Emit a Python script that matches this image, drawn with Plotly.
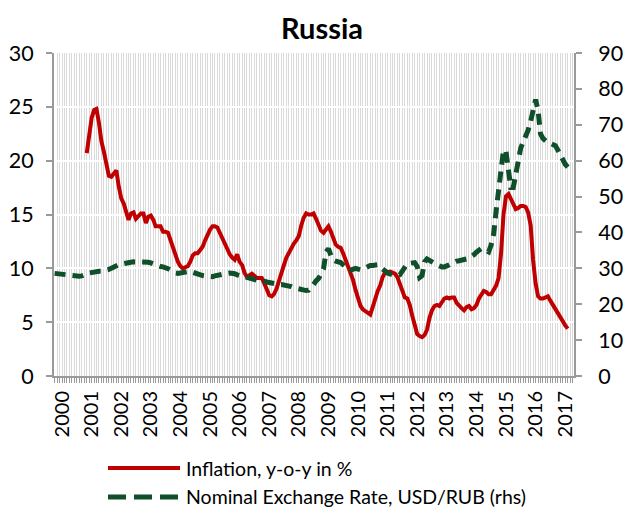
import pandas as pd
import plotly.graph_objects as go

# Monthly data
inflation_start = "2000-11-01"
inflation = [
    20.7, 22.5, 24.0, 24.7, 24.8, 23.5, 21.8, 20.8, 19.5, 18.6,
    18.5, 18.8, 19.1, 17.6, 16.5, 16.0, 15.2, 14.5, 15.1, 15.2,
    14.6, 14.8, 15.1, 15.1, 14.2, 14.8, 14.9, 14.5, 13.9, 13.9,
    13.9, 13.4, 13.4, 13.3, 12.6, 11.9, 11.4, 10.6, 10.2, 10.0,
    10.1, 10.2, 10.6, 11.2, 11.4, 11.4, 11.7, 12.0, 12.6, 13.2,
    13.6, 13.9, 13.9, 13.8, 13.3, 12.7, 12.3, 11.9, 11.3, 11.0,
    10.8, 11.3, 10.6, 10.3, 9.6, 9.2, 9.3, 9.5, 9.3, 9.1,
    9.1, 9.1, 8.6, 8.0, 7.5, 7.4, 7.6, 8.1, 8.9, 9.4,
    10.3, 11.0, 11.5, 11.9, 12.3, 12.6, 13.0, 14.0, 14.7, 15.1,
    15.0, 15.0, 15.1, 14.6, 14.1, 13.5, 13.3, 13.6, 13.9, 13.4,
    12.8, 12.2, 12.0, 11.9, 11.4, 10.8, 10.0, 9.4, 8.9, 8.0,
    7.1, 6.5, 6.2, 6.0, 5.8, 5.7, 6.4, 7.3, 7.9, 8.4,
    9.2, 9.6, 9.7, 9.7, 9.6, 9.5, 9.2, 8.6, 7.8, 7.3,
    7.2, 6.6, 5.6, 4.6, 3.9, 3.7, 3.6, 3.8, 4.3, 5.4,
    6.1, 6.5, 6.6, 6.5, 6.8, 7.2, 7.3, 7.2, 7.3, 7.3,
    6.8, 6.5, 6.3, 6.1, 6.4, 6.5, 6.2, 6.3, 6.6, 7.2,
    7.5, 7.9, 7.8, 7.6, 7.6, 8.0, 8.4, 9.1, 11.4, 15.0,
    16.7, 16.9, 16.4, 15.8, 15.5, 15.6, 15.8, 15.8, 15.7, 15.2,
    14.0, 10.8, 8.6, 7.4, 7.2, 7.2, 7.3, 7.4, 7.0, 6.6,
    6.3, 5.9, 5.4, 5.1, 4.7, 4.4,
]

fx_start = "1999-10-01"
usd_rub = [
    28.6, 28.5, 28.4,
    28.3, 28.2, 28.1, 28.1, 28.0, 27.9, 27.8, 27.8, 27.9, 28.0,
    28.4, 28.7, 28.9, 29.0, 29.1, 29.2, 29.2, 29.3, 29.5, 29.7,
    30.0, 30.4, 30.8, 31.0, 31.2, 31.4, 31.5, 31.6, 31.7, 31.8,
    31.8, 31.9, 31.9, 31.9, 31.8, 31.7, 31.5, 31.2, 30.9, 30.7,
    30.5, 30.4, 30.3, 29.9, 29.5, 29.0, 28.7, 28.6, 28.7, 28.8,
    29.0, 29.3, 29.2, 28.9, 28.6, 28.3, 28.1, 28.0, 27.9, 27.8,
    27.7, 27.7, 27.9, 28.1, 28.3, 28.4, 28.5, 28.6, 28.7, 28.7,
    28.5, 28.2, 28.0, 27.7, 27.4, 27.2, 27.0, 26.9, 26.8, 26.7,
    26.6, 26.6, 26.4, 26.2, 26.0, 25.8, 25.7, 25.6, 25.5, 25.5,
    25.4, 25.3, 25.1, 24.9, 24.6, 24.4, 24.1, 23.9, 23.8, 23.8,
    23.9, 24.5, 25.5, 26.5, 27.2, 28.4, 29.8, 34.5, 35.5, 33.5,
    32.3, 32.0, 31.8, 31.6, 31.0, 30.2, 29.7, 29.5, 29.8, 30.0,
    29.8, 29.6, 29.8, 30.2, 30.6, 30.8, 30.8, 30.9, 31.0, 30.4,
    29.7, 29.0, 28.7, 28.4, 28.2, 28.1, 28.1, 28.2, 29.2, 30.8,
    31.3, 31.4, 31.5, 31.6, 30.5, 27.5, 28.0, 31.8, 32.6, 32.3,
    31.8, 31.4, 31.0, 30.6, 30.4, 30.4, 30.6, 31.0, 31.4, 31.8,
    32.0, 32.1, 32.2, 32.3, 32.6, 32.9, 33.3, 33.8, 34.5, 35.1,
    35.5, 35.4, 34.9, 34.6, 36.5, 39.5, 46.0, 52.5, 58.5, 63.0,
    62.5, 58.3, 52.5, 52.5, 56.0, 60.5, 63.5, 65.2, 66.8, 68.5,
    71.0, 74.0, 77.0, 74.0, 67.5, 66.2, 65.5, 65.0, 64.8, 64.5,
    64.2, 63.0, 61.5, 60.2, 59.0, 58.2,
]

series_names = ["Inflation, y-o-y in %", "Nominal Exchange Rate, USD/RUB (rhs)"]
year_ticks = list(range(2000, 2018))

inf_dates = pd.date_range(inflation_start, periods=len(inflation), freq="MS")
fx_dates = pd.date_range(fx_start, periods=len(usd_rub), freq="MS")

RED = "#C00000"
GREEN = "#0F4F2A"
AX = "#9a9a9a"
FONT = "Lato"

W, H = 637, 512
PL, PR, PT, PB = 54, 574, 53, 376  # plot area in page px

fig = go.Figure()
fig.add_trace(go.Scatter(x=inf_dates, y=inflation, mode="lines", name=series_names[0],
                         line=dict(color=RED, width=4), yaxis="y", showlegend=False))
fig.add_trace(go.Scatter(x=fx_dates, y=usd_rub, mode="lines", name=series_names[1],
                         line=dict(color=GREEN, width=5, dash="11px,7px"), yaxis="y2",
                         showlegend=False))


def py(pix):
    return (PB - pix) / (PB - PT)


def pxx(pix):
    return (pix - PL) / (PR - PL)


# manual legend (long line samples as in the reference)
fig.add_shape(type="line", xref="paper", yref="paper", x0=pxx(108), x1=pxx(180),
              y0=py(468), y1=py(468), line=dict(color=RED, width=4))
fig.add_shape(type="line", xref="paper", yref="paper", x0=pxx(108), x1=pxx(180),
              y0=py(497), y1=py(497), line=dict(color=GREEN, width=5, dash="18px,8px"))
for name, ypix in zip(series_names, [468, 497]):
    fig.add_annotation(text=name, xref="paper", yref="paper", x=pxx(184), y=py(ypix),
                       xanchor="left", yanchor="middle", showarrow=False,
                       font=dict(family=FONT, size=19.5, color="#000"))

fig.update_layout(
    width=W, height=H,
    margin=dict(l=PL, r=W - PR, t=PT, b=H - PB, autoexpand=False),
    paper_bgcolor="white", plot_bgcolor="white",
    font=dict(family=FONT, color="#000"),
    title=dict(text="<b>Russia</b>", x=pxx(322), xref="paper", xanchor="center",
               y=1 - 29 / H, yref="container", yanchor="middle",
               font=dict(family=FONT, size=29, color="#000")),
    xaxis=dict(
        type="date",
        range=["1999-09-24", "2017-04-19"],
        tickmode="array",
        tickvals=[f"{y}-01-01" for y in year_ticks],
        ticktext=[str(y) for y in year_ticks],
        tickangle=-90,
        ticks="outside", ticklen=5, tickcolor=AX, tickwidth=1,
        showline=True, linecolor=AX, linewidth=2,
        showgrid=True, gridcolor="#d9d9d9", gridwidth=1,
        minor=dict(dtick="M1", tick0="2000-01-01", ticks="outside", ticklen=5,
                   tickcolor=AX, tickwidth=1, showgrid=True, gridcolor="#d9d9d9", gridwidth=1),
        tickfont=dict(family=FONT, size=20, color="#000"),
        ticklabelstandoff=0,
        automargin=False,
        fixedrange=True,
    ),
    yaxis=dict(
        range=[0, 30], dtick=5, tick0=0,
        ticks="outside", ticklen=6, tickcolor=AX, tickwidth=2,
        showline=True, linecolor=AX, linewidth=2,
        showgrid=True, gridcolor="white", gridwidth=2, zeroline=False,
        tickfont=dict(family=FONT, size=21.5, color="#000"),
        ticklabelstandoff=8, automargin=False, fixedrange=True,
    ),
    yaxis2=dict(
        range=[0, 90], dtick=10, tick0=0, overlaying="y", side="right",
        ticks="outside", ticklen=6, tickcolor=AX, tickwidth=2,
        showline=True, linecolor=AX, linewidth=2,
        showgrid=False, zeroline=False,
        tickfont=dict(family=FONT, size=21.5, color="#000"),
        ticklabelstandoff=12, automargin=False, fixedrange=True,
    ),
)

fig.write_html("out.html",
               config={"displayModeBar": False, "staticPlot": True},
               post_script="document.body.style.margin='0';document.body.style.overflow='hidden';")
